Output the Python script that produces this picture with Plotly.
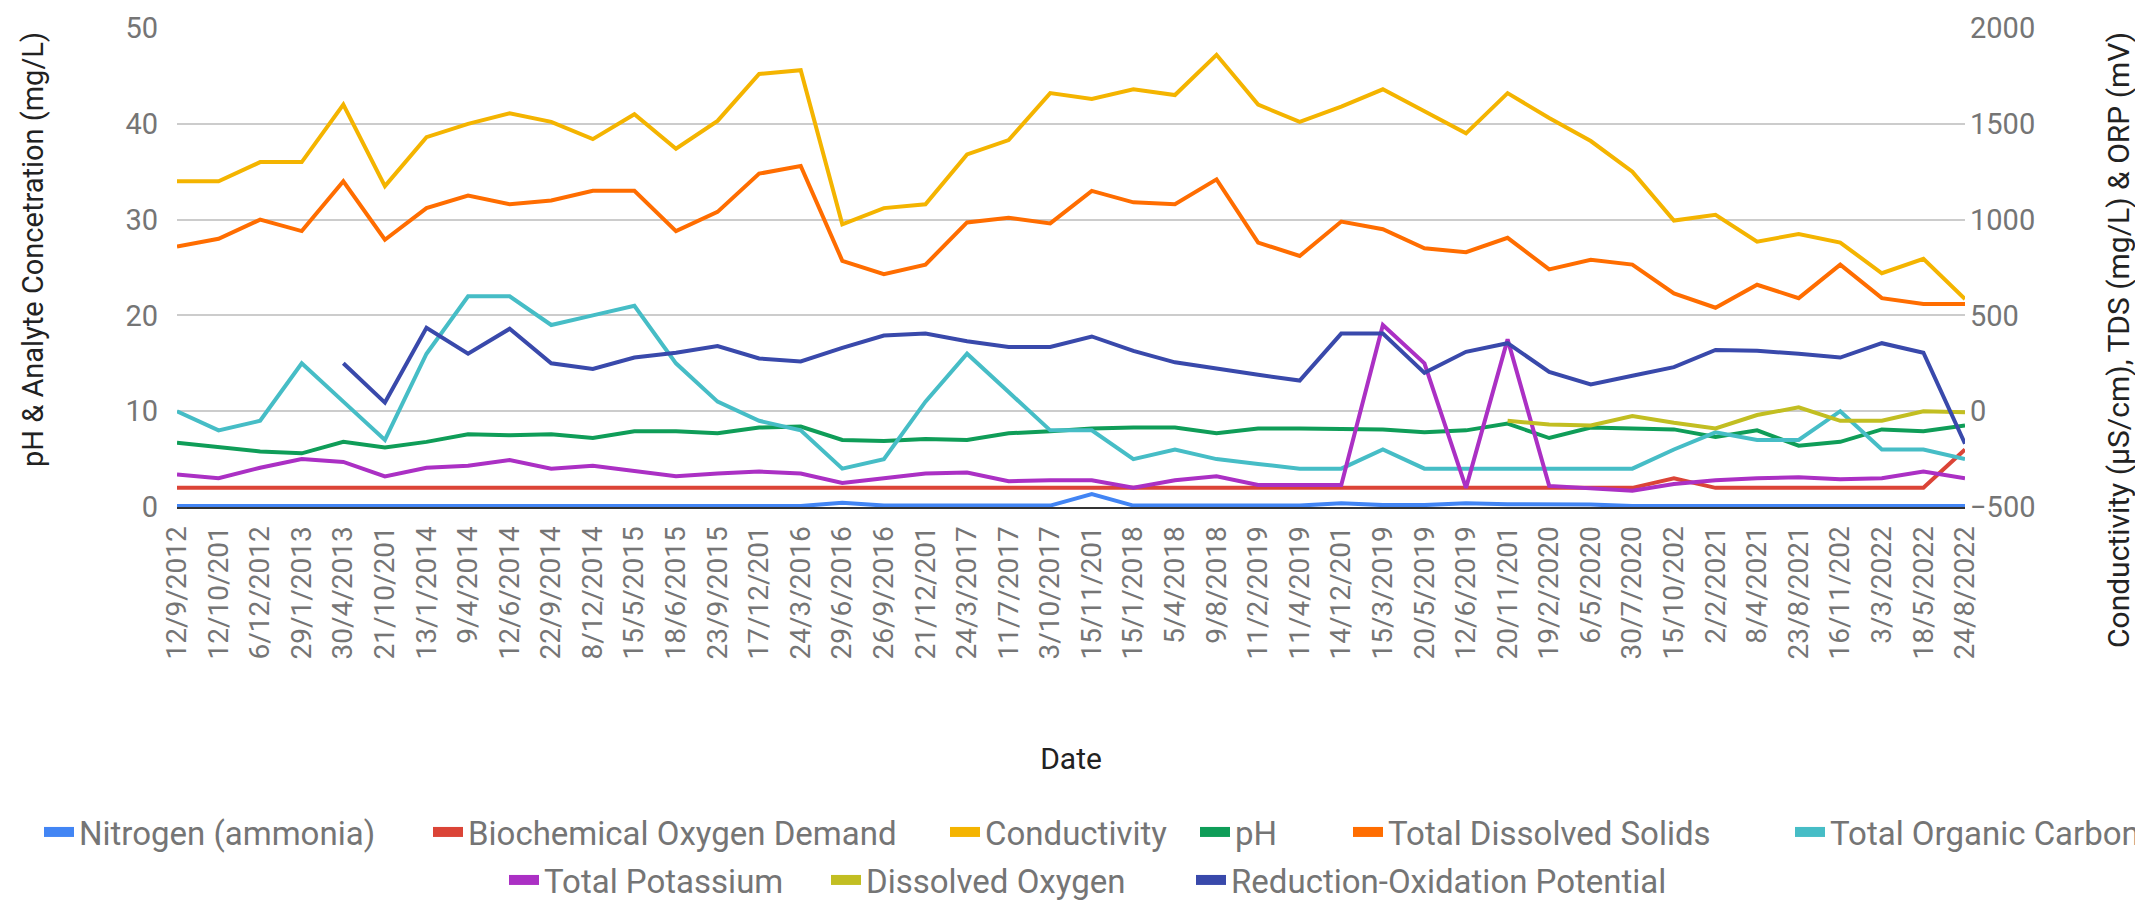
import plotly.graph_objects as go

dates = ["12/9/2012", "12/10/201", "6/12/2012", "29/1/2013", "30/4/2013", "21/10/201",
         "13/1/2014", "9/4/2014", "12/6/2014", "22/9/2014", "8/12/2014", "15/5/2015",
         "18/6/2015", "23/9/2015", "17/12/201", "24/3/2016", "29/6/2016", "26/9/2016",
         "21/12/201", "24/3/2017", "11/7/2017", "3/10/2017", "15/11/201", "15/1/2018",
         "5/4/2018", "9/8/2018", "11/2/2019", "11/4/2019", "14/12/201", "15/3/2019",
         "20/5/2019", "12/6/2019", "20/11/201", "19/2/2020", "6/5/2020", "30/7/2020",
         "15/10/202", "2/2/2021", "8/4/2021", "23/8/2021", "16/11/202", "3/3/2022",
         "18/5/2022", "24/8/2022"]

nitrogen = [0.1, 0.1, 0.1, 0.1, 0.1, 0.1, 0.1, 0.1, 0.1, 0.1, 0.1, 0.1,
            0.1, 0.1, 0.1, 0.1, 0.45, 0.15, 0.15, 0.15, 0.15, 0.15, 1.35, 0.15,
            0.15, 0.15, 0.15, 0.15, 0.4, 0.2, 0.2, 0.4, 0.3, 0.3, 0.25, 0.1,
            0.1, 0.1, 0.1, 0.1, 0.1, 0.1, 0.1, 0.1]

bod = [2, 2, 2, 2, 2, 2, 2, 2, 2, 2, 2, 2,
       2, 2, 2, 2, 2, 2, 2, 2, 2, 2, 2, 2,
       2, 2, 2, 2, 2, 2, 2, 2, 2, 2, 2, 2,
       3, 2, 2, 2, 2, 2, 2, 6]

conductivity = [1200, 1200, 1300, 1300, 1600, 1175, 1430, 1500, 1555, 1510, 1420, 1550,
                1370, 1515, 1760, 1780, 975, 1060, 1080, 1340, 1415, 1660, 1630, 1680,
                1650, 1860, 1600, 1510, 1590, 1680, 1565, 1450, 1660, 1530, 1410, 1250,
                995, 1025, 885, 925, 880, 720, 795, 585]

ph = [6.7, 6.3, 5.8, 5.6, 6.8, 6.2, 6.8, 7.6, 7.5, 7.6, 7.2, 7.9,
      7.9, 7.7, 8.3, 8.4, 7.0, 6.9, 7.1, 7.0, 7.7, 7.9, 8.2, 8.3,
      8.3, 7.7, 8.2, 8.2, 8.1, 8.1, 7.8, 8.0, 8.7, 7.2, 8.3, 8.2,
      8.1, 7.3, 8.0, 6.4, 6.8, 8.1, 7.9, 8.5]

tds = [860, 900, 1000, 940, 1200, 895, 1060, 1125, 1080, 1100, 1150, 1150,
       940, 1040, 1240, 1280, 785, 715, 765, 985, 1010, 980, 1150, 1090,
       1080, 1210, 880, 810, 990, 950, 850, 830, 905, 740, 790, 765,
       615, 540, 660, 590, 765, 590, 560, 560]

toc = [10, 8, 9, 15, 11, 7, 16, 22, 22, 19, 20, 21,
       15, 11, 9, 8, 4, 5, 11, 16, 12, 8, 8, 5,
       6, 5, 4.5, 4, 4, 6, 4, 4, 4, 4, 4, 4,
       6, 7.8, 7, 7, 10, 6, 6, 5]

potassium = [3.4, 3.0, 4.1, 5.0, 4.7, 3.2, 4.1, 4.3, 4.9, 4.0, 4.3, 3.7,
             3.2, 3.5, 3.7, 3.5, 2.5, 3.0, 3.5, 3.6, 2.7, 2.8, 2.8, 2.0,
             2.8, 3.2, 2.3, 2.3, 2.3, 19.0, 15.0, 2.0, 17.5, 2.2, 2.0, 1.7,
             2.4, 2.8, 3.0, 3.1, 2.9, 3.0, 3.7, 3.0]

dissolved_oxygen = [None] * 32 + [9.0, 8.6, 8.5, 9.5, 8.8, 8.2, 9.6, 10.4, 9.0, 9.0, 10.0, 9.9]

orp = [None, None, None, None, 250, 45, 435, 300, 430, 250, 220, 280,
       305, 340, 275, 260, 330, 395, 405, 365, 335, 335, 390, 315,
       255, 220, 190, 160, 405, 405, 200, 310, 355, 205, 140, 185,
       230, 320, 315, 300, 280, 355, 305, -170]

series = [
    ("Nitrogen (ammonia)", nitrogen, "#4285F4", "y"),
    ("Biochemical Oxygen Demand", bod, "#DB4437", "y"),
    ("Conductivity", conductivity, "#F4B400", "y2"),
    ("pH", ph, "#0F9D58", "y"),
    ("Total Dissolved Solids", tds, "#FF6D00", "y2"),
    ("Total Organic Carbon", toc, "#46BDC6", "y"),
    ("Total Potassium", potassium, "#AB30C4", "y"),
    ("Dissolved Oxygen", dissolved_oxygen, "#C2BE22", "y"),
    ("Reduction-Oxidation Potential", orp, "#3949AB", "y2"),
]

# legend entry positions (entry left edge px, row centre px)
legend_pos = [(31, 824), (420, 824), (937, 824), (1187, 824), (1340, 824), (1782, 824),
              (496, 872), (818, 872), (1183, 872)]

W, H = 2143, 900
L, R, T, B = 169, 186, 20, 401
pw, ph_ = W - L - R, H - T - B
FONT = "Roboto"
GREY = "#757575"
DARK = "#222222"

fig = go.Figure()
for name, vals, color, ax in series:
    fig.add_trace(go.Scatter(x=dates, y=vals, name=name, mode="lines",
                             line=dict(color=color, width=4), yaxis=ax,
                             showlegend=False, connectgaps=False, hoverinfo="x+y+name"))

legends = {}
for k, ((name, vals, color, ax), (px, py)) in enumerate(zip(series, legend_pos)):
    lname = "legend" if k == 0 else f"legend{k+1}"
    fig.add_trace(go.Scatter(x=[None], y=[None], name=name, mode="lines",
                             line=dict(color=color, width=11), yaxis=ax,
                             showlegend=True, legend=lname))
    legends[lname] = dict(x=(px - L) / pw, y=(H - B - py) / ph_,
                          xanchor="left", yanchor="middle", orientation="h",
                          itemwidth=30,
                          font=dict(family=FONT, size=33, color=GREY),
                          bgcolor="rgba(0,0,0,0)", borderwidth=0)

fig.update_layout(
    width=W, height=H,
    margin=dict(l=L, r=R, t=T, b=B, autoexpand=False),
    paper_bgcolor="white", plot_bgcolor="white",
    font=dict(family=FONT, size=28, color=GREY),
    xaxis=dict(type="category", tickangle=-90, showgrid=False,
               showline=True, linecolor="#333333", linewidth=2, layer="below traces",
               ticks="", ticklabelstandoff=6,
               tickfont=dict(family=FONT, size=28, color=GREY),
               title=dict(text="Date", standoff=90,
                          font=dict(family=FONT, size=30, color=DARK))),
    yaxis=dict(range=[0, 50], dtick=10, showgrid=True, gridcolor="#cccccc", gridwidth=2,
               zeroline=False, showline=False, ticks="", ticklabelstandoff=18,
               tickfont=dict(family=FONT, size=29, color=GREY)),
    yaxis2=dict(range=[-500, 2000], dtick=500, overlaying="y", side="right",
                showgrid=False, zeroline=False, showline=False, ticks="",
                ticklabelstandoff=4,
                tickfont=dict(family=FONT, size=29, color=GREY)),
    annotations=[
        dict(text="pH & Analyte Concetration (mg/L)",
             xref="paper", yref="paper", x=(25 - L) / pw, y=(H - B - 242) / ph_,
             xanchor="center", yanchor="middle", textangle=-90, showarrow=False,
             font=dict(family=FONT, size=29, color=DARK)),
        dict(text="Conductivity (µS/cm), TDS (mg/L) & ORP (mV)",
             xref="paper", yref="paper", x=(2110 - L) / pw, y=(H - B - 332) / ph_,
             xanchor="center", yanchor="middle", textangle=-90, showarrow=False,
             font=dict(family=FONT, size=30, color=DARK)),
    ],
    **legends,
)

fig.write_html("out.html")
